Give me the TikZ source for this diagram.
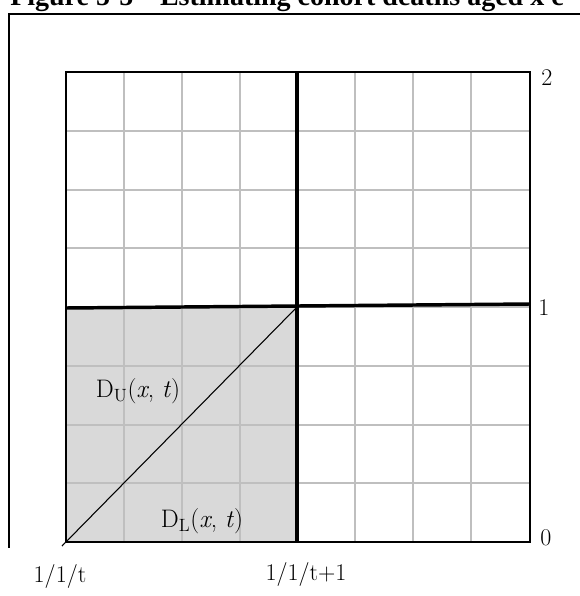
\documentclass[tikz,border=0pt]{standalone}
\usepackage{fontspec}
\newfontfamily\titlefont{Liberation Serif}
\usetikzlibrary{positioning}

\begin{document}
\begin{tikzpicture}[
    x=0.75pt, y=-0.75pt,
    every node/.style={inner sep=0pt, font=\fontsize{18}{21}\selectfont},
    gridline/.style={draw=black!25, line width=1.1pt},
    border/.style={draw=black, line width=2pt},
    thickline/.style={draw=black, line width=2.6pt},
    frameline/.style={draw=black, line width=1.6pt},
    dlabel/.style={anchor=base, font=\fontsize{19}{22}\selectfont}
]
\useasboundingbox (0,0) rectangle (580,596);

% Title and frame
\node[anchor=base west, font=\titlefont\bfseries\fontsize{21}{24}\selectfont] (title) at (10,6)
    {Figure 5-5\hspace{20pt}Estimating cohort deaths aged x c};
\coordinate (frameTR) at (590,14);
\coordinate (frameBL) at (9,548);
\draw[frameline] (frameTR) -| (frameBL);

% Grid corners
\coordinate (ll) at (66,542);
\coordinate (ul) at (66,72);
\coordinate (ur) at (530,72);
\coordinate (lr) at (530,542);
\coordinate (mid) at (297,307);

% Shaded square
\fill[black!15] (66,307) rectangle (297,542);

% Grey grid
\foreach \x in {124,182,240,355,413,471}
    \draw[gridline] (\x,72) -- (\x,542);
\foreach \y in {131,190,248,307,366,425,483}
    \draw[gridline] (66,\y) -- (530,\y);

% Outer box and thick lines
\draw[border] (ul) rectangle (lr);
\draw[thickline] (297,72) -- (297,542);
\draw[thickline] (66,308) -- (530,304);
\draw[line width=0.8pt] (62,546) -- (mid);

% Age labels
\node (age2) at (547,78) {2};
\node (age1) at (544,308) {1};
\node (age0) at (546,538) {0};

% Date labels
\node (datet) at (60,576) {1/1/t};
\node (datet1) at (306,574) {1/1/t+1};

% Death labels
\node[dlabel] (du) at (138,397) {D\textsubscript{U}(\textit{x}, \textit{t})};
\node[dlabel] (dl) at (202,527) {D\textsubscript{L}(\textit{x}, \textit{t})};

\end{tikzpicture}
\end{document}
